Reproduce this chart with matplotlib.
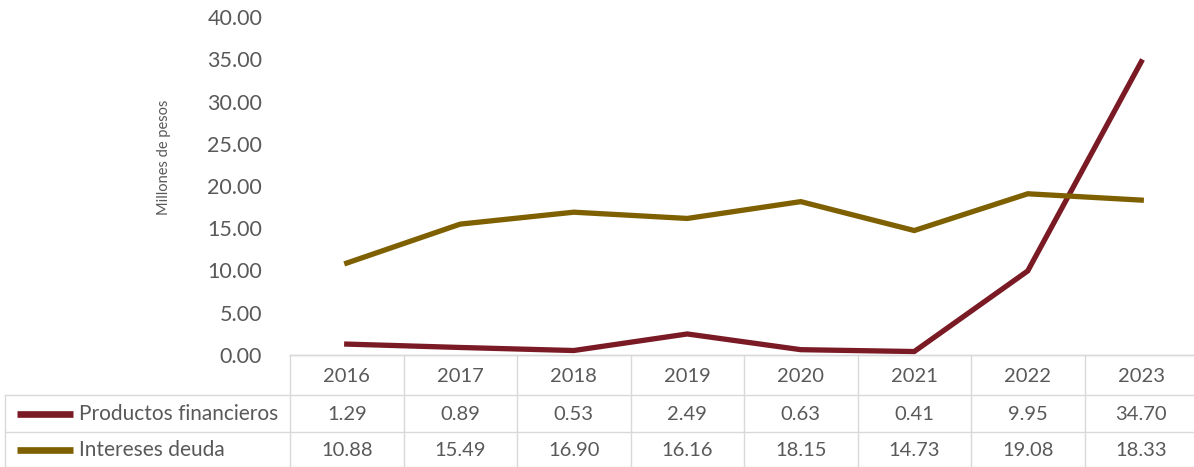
import matplotlib
matplotlib.use("Agg")
import matplotlib.pyplot as plt

years = ["2016", "2017", "2018", "2019", "2020", "2021", "2022", "2023"]
productos = [1.29, 0.89, 0.53, 2.49, 0.63, 0.41, 9.95, 34.70]
intereses = [10.88, 15.49, 16.90, 16.16, 18.15, 14.73, 19.08, 18.33]
series_names = ["Productos financieros", "Intereses deuda"]
yticks = [0, 5, 10, 15, 20, 25, 30, 35, 40]

c_prod = "#7A1A24"
c_int = "#7F6000"
txt = "#595959"
grid = "#D9D9D9"
FONT = "Lato"

W, H = 1194, 467
fig = plt.figure(figsize=(W / 100, H / 100), dpi=100)

left = 290 / W
width = 908 / W
ax = fig.add_axes([left, (H - 355) / H, width, (355 - 17) / H])
x = list(range(len(years)))
ax.plot(x, productos, color=c_prod, lw=3.8, solid_joinstyle="miter")
ax.plot(x, intereses, color=c_int, lw=3.8, solid_joinstyle="miter")
ax.set_xlim(-0.5, 7.5)
ax.set_ylim(0, 40)
ax.set_yticks(yticks)
ax.set_yticklabels([f"{v:.2f}" for v in yticks], fontsize=15.5, color=txt, family=FONT)
ax.tick_params(axis="y", length=0, pad=20)
ax.set_xticks([])
for s in ["top", "right", "left"]:
    ax.spines[s].set_visible(False)
ax.spines["bottom"].set_color(grid)
ax.spines["bottom"].set_linewidth(1)
ax.set_ylabel("Millones de pesos", fontsize=10.5, color=txt, family=FONT)
ax.yaxis.set_label_coords(-119 / 908, 0.585)

# table
tab = fig.add_axes([left, 0, width, 112 / H])
tab.set_xlim(-0.5, 7.5)
tab.set_ylim(112, 0)
tab.axis("off")
ppx = 8 / 908  # data units per pixel
xl = -0.5 - 285 * ppx
kw = dict(color=grid, lw=1, clip_on=False)
# horizontal lines
tab.plot([-0.5, 7.6], [0, 0], **kw)
tab.plot([xl, 7.6], [40, 40], **kw)
tab.plot([xl, 7.6], [77, 77], **kw)
tab.plot([xl, 7.6], [111.5, 111.5], **kw)
# verticals
for k in range(len(years)):
    tab.plot([k - 0.5, k - 0.5], [0, 112], **kw)
tab.plot([xl, xl], [40, 112], **kw)

FS = 14.5
for i, yr in enumerate(years):
    tab.text(i, 21, yr, ha="center", va="center", fontsize=FS, color=txt, family=FONT)
    tab.text(i, 59, f"{productos[i]:.2f}", ha="center", va="center", fontsize=FS, color=txt, family=FONT)
    tab.text(i, 95, f"{intereses[i]:.2f}", ha="center", va="center", fontsize=FS, color=txt, family=FONT)

for row_y, name, col in [(59, series_names[0], c_prod), (95, series_names[1], c_int)]:
    tab.plot([xl + 12 * ppx, xl + 68 * ppx], [row_y, row_y], color=col, lw=4.8,
             solid_capstyle="butt", clip_on=False)
    tab.text(xl + 74 * ppx, row_y, name, ha="left", va="center", fontsize=15,
             color=txt, family=FONT, clip_on=False)

fig.savefig("out.png", dpi=100)
